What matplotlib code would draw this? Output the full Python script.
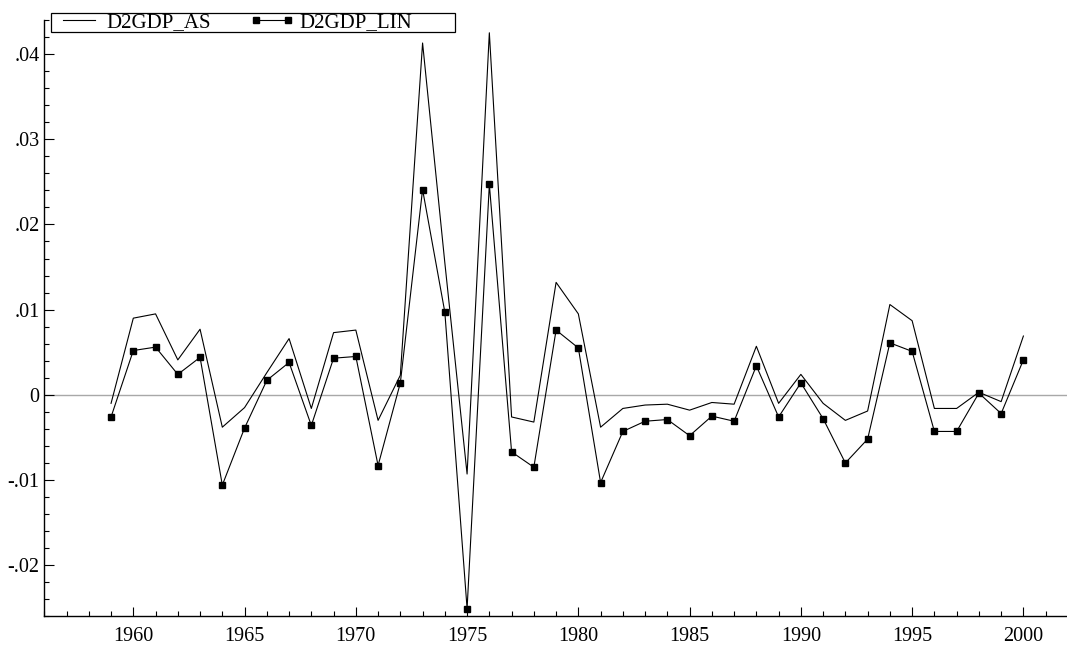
import matplotlib
matplotlib.use("Agg")
import matplotlib.pyplot as plt
from matplotlib.ticker import MultipleLocator, FuncFormatter
from matplotlib.patches import Rectangle

years = list(range(1959, 2001))
d2gdp_as = [-0.0010, 0.0090, 0.0095, 0.0041, 0.0077, -0.0038, -0.0015, 0.0026,
            0.0066, -0.0016, 0.0073, 0.0076, -0.0030, 0.0023, 0.0413, 0.0155,
            -0.0093, 0.0425, -0.0026, -0.0032, 0.0132, 0.0095, -0.0038, -0.0016,
            -0.0012, -0.0011, -0.0018, -0.0009, -0.0011, 0.0057, -0.0010, 0.0024,
            -0.0010, -0.0030, -0.0019, 0.0106, 0.0087, -0.0016, -0.0016, 0.0003,
            -0.0008, 0.0069]
d2gdp_lin = [-0.0026, 0.0052, 0.0056, 0.0024, 0.0044, -0.0106, -0.0039, 0.0017,
             0.0038, -0.0036, 0.0043, 0.0045, -0.0083, 0.0014, 0.0241, 0.0097,
             -0.0251, 0.0247, -0.0067, -0.0085, 0.0076, 0.0055, -0.0103, -0.0043,
             -0.0031, -0.0029, -0.0048, -0.0025, -0.0031, 0.0034, -0.0026, 0.0014,
             -0.0028, -0.0080, -0.0052, 0.0061, 0.0051, -0.0043, -0.0043, 0.0002,
             -0.0022, 0.0041]
series_names = ["D2GDP_AS", "D2GDP_LIN"]

plt.rcParams['font.family'] = ['Liberation Serif', 'DejaVu Serif']

W, H = 1067, 646
fig = plt.figure(figsize=(W / 100, H / 100), dpi=100)
ax = fig.add_axes([44.3 / W, 1 - 616.3 / H, 1 - 44.3 / W, (616.3 - 20) / H])

ax.axhline(0, color='#a8a8a8', lw=1.0, zorder=1)
l1, = ax.plot(years, d2gdp_as, color='black', lw=0.8, zorder=3)
l2, = ax.plot(years, d2gdp_lin, color='black', lw=0.8, marker='s',
              markersize=4.8, markerfacecolor='black', markeredgecolor='black',
              zorder=4)

ax.set_xlim(1956, 2001.96)
ax.set_ylim(-0.026, 0.044)

for s in ['top', 'right']:
    ax.spines[s].set_visible(False)
for s in ['left', 'bottom']:
    ax.spines[s].set_linewidth(1.0)

ax.xaxis.set_major_locator(MultipleLocator(5))
ax.xaxis.set_minor_locator(MultipleLocator(1))
ax.yaxis.set_major_locator(MultipleLocator(0.01))
ax.yaxis.set_minor_locator(MultipleLocator(0.002))


def yfmt(v, pos):
    if abs(v) < 1e-9:
        return '0'
    s = '%.2f' % v
    return s.replace('0.', '.', 1)


ax.yaxis.set_major_formatter(FuncFormatter(yfmt))
ax.xaxis.set_major_formatter(FuncFormatter(lambda v, p: '%d' % round(v)))

ax.tick_params(axis='both', which='both', direction='in', width=0.8,
               labelsize=14.5, colors='black')
ax.tick_params(axis='x', which='major', length=6.3, pad=8)
ax.tick_params(axis='x', which='minor', length=3.4)
ax.tick_params(axis='y', which='major', length=7.0, pad=3.5)
ax.tick_params(axis='y', which='minor', length=3.6)
ax.tick_params(top=False, right=False, which='both')

# legend
leg = fig.legend([l1, l2], series_names, loc='center left',
                 bbox_to_anchor=(57 / W, 1 - 22.7 / H), ncol=2, frameon=False,
                 fontsize=15, borderpad=0, borderaxespad=0, handlelength=2.1,
                 handletextpad=0.25, columnspacing=1.9, numpoints=2)
fig.add_artist(Rectangle((50.7 / W, 1 - 32.3 / H), (455.3 - 50.7) / W, 19 / H,
                         transform=fig.transFigure, fill=True, facecolor='white',
                         edgecolor='black', lw=0.9, zorder=2))
leg.set_zorder(5)

fig.savefig('out.png', dpi=100)
